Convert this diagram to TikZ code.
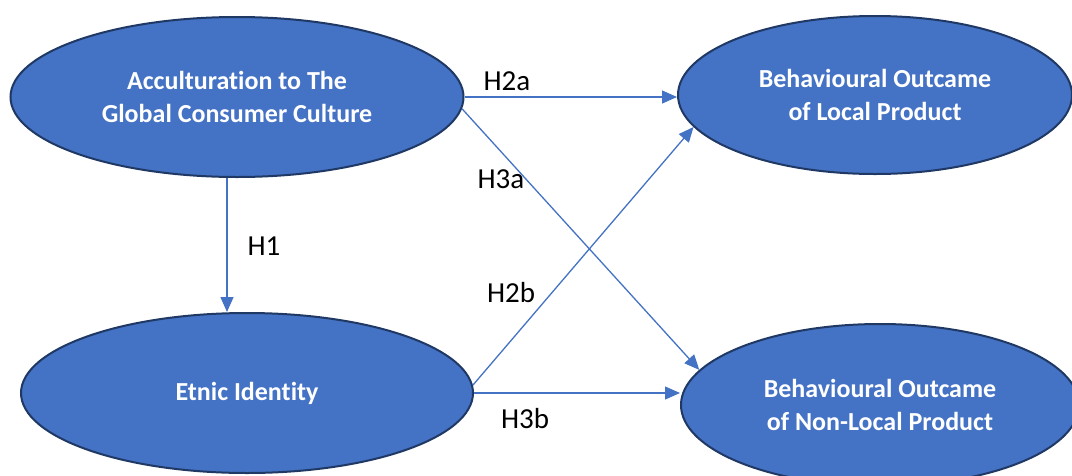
\documentclass[tikz,border=0pt]{standalone}
\usepackage{fontspec}
\setmainfont[Ligatures=NoCommon]{Carlito}
\usetikzlibrary{shapes.geometric,arrows.meta}
\definecolor{ofblue}{HTML}{4472C4}
\definecolor{ofnavy}{HTML}{1F3864}
\begin{document}
\begin{tikzpicture}[x=1pt,y=-1pt,>={Triangle[length=15pt,width=13pt]},
	construct/.style={ellipse,draw=ofnavy,line width=2pt,fill=ofblue,text=white,
		inner sep=0pt,align=center,font=\fontsize{26}{33}\selectfont\bfseries},
	hyp/.style={anchor=base,font=\fontsize{29}{34}\selectfont},
	link/.style={->,draw=ofblue,line width=1.3pt}]
\useasboundingbox (0,0) rectangle (1072,475);
\node[construct,minimum width=453pt,minimum height=160pt] (accult) at (237,97)
	{Acculturation to The\\Global Consumer Culture};
\node[construct,minimum width=452pt,minimum height=160pt] (ident) at (247,393)
	{Etnic Identity};
\node[construct,minimum width=394pt,minimum height=158pt] (local) at (875,95)
	{Behavioural Outcame\\of Local Product};
\node[construct,minimum width=398pt,minimum height=162pt] (nonlocal) at (880,405)
	{Behavioural Outcame\\of Non-Local Product};
\draw[link] ([xshift=-10pt]accult.south) -- ([xshift=-10pt]accult.south |- ident.north);
\draw[link] (accult.east) -- (accult.east -| local.west);
\draw[link] (accult.-3) -- (nonlocal.169);
\draw[link] (ident.2) -- (local.190);
\draw[link] (ident.east) -- (ident.east -| nonlocal.west);
\node[hyp] (h1) at (264,255) {H1};
\node[hyp] (h2a) at (507,90) {H2a};
\node[hyp] (h3a) at (501,188) {H3a};
\node[hyp] (h2b) at (511,302) {H2b};
\node[hyp] (h3b) at (525,428) {H3b};
\end{tikzpicture}
\end{document}
